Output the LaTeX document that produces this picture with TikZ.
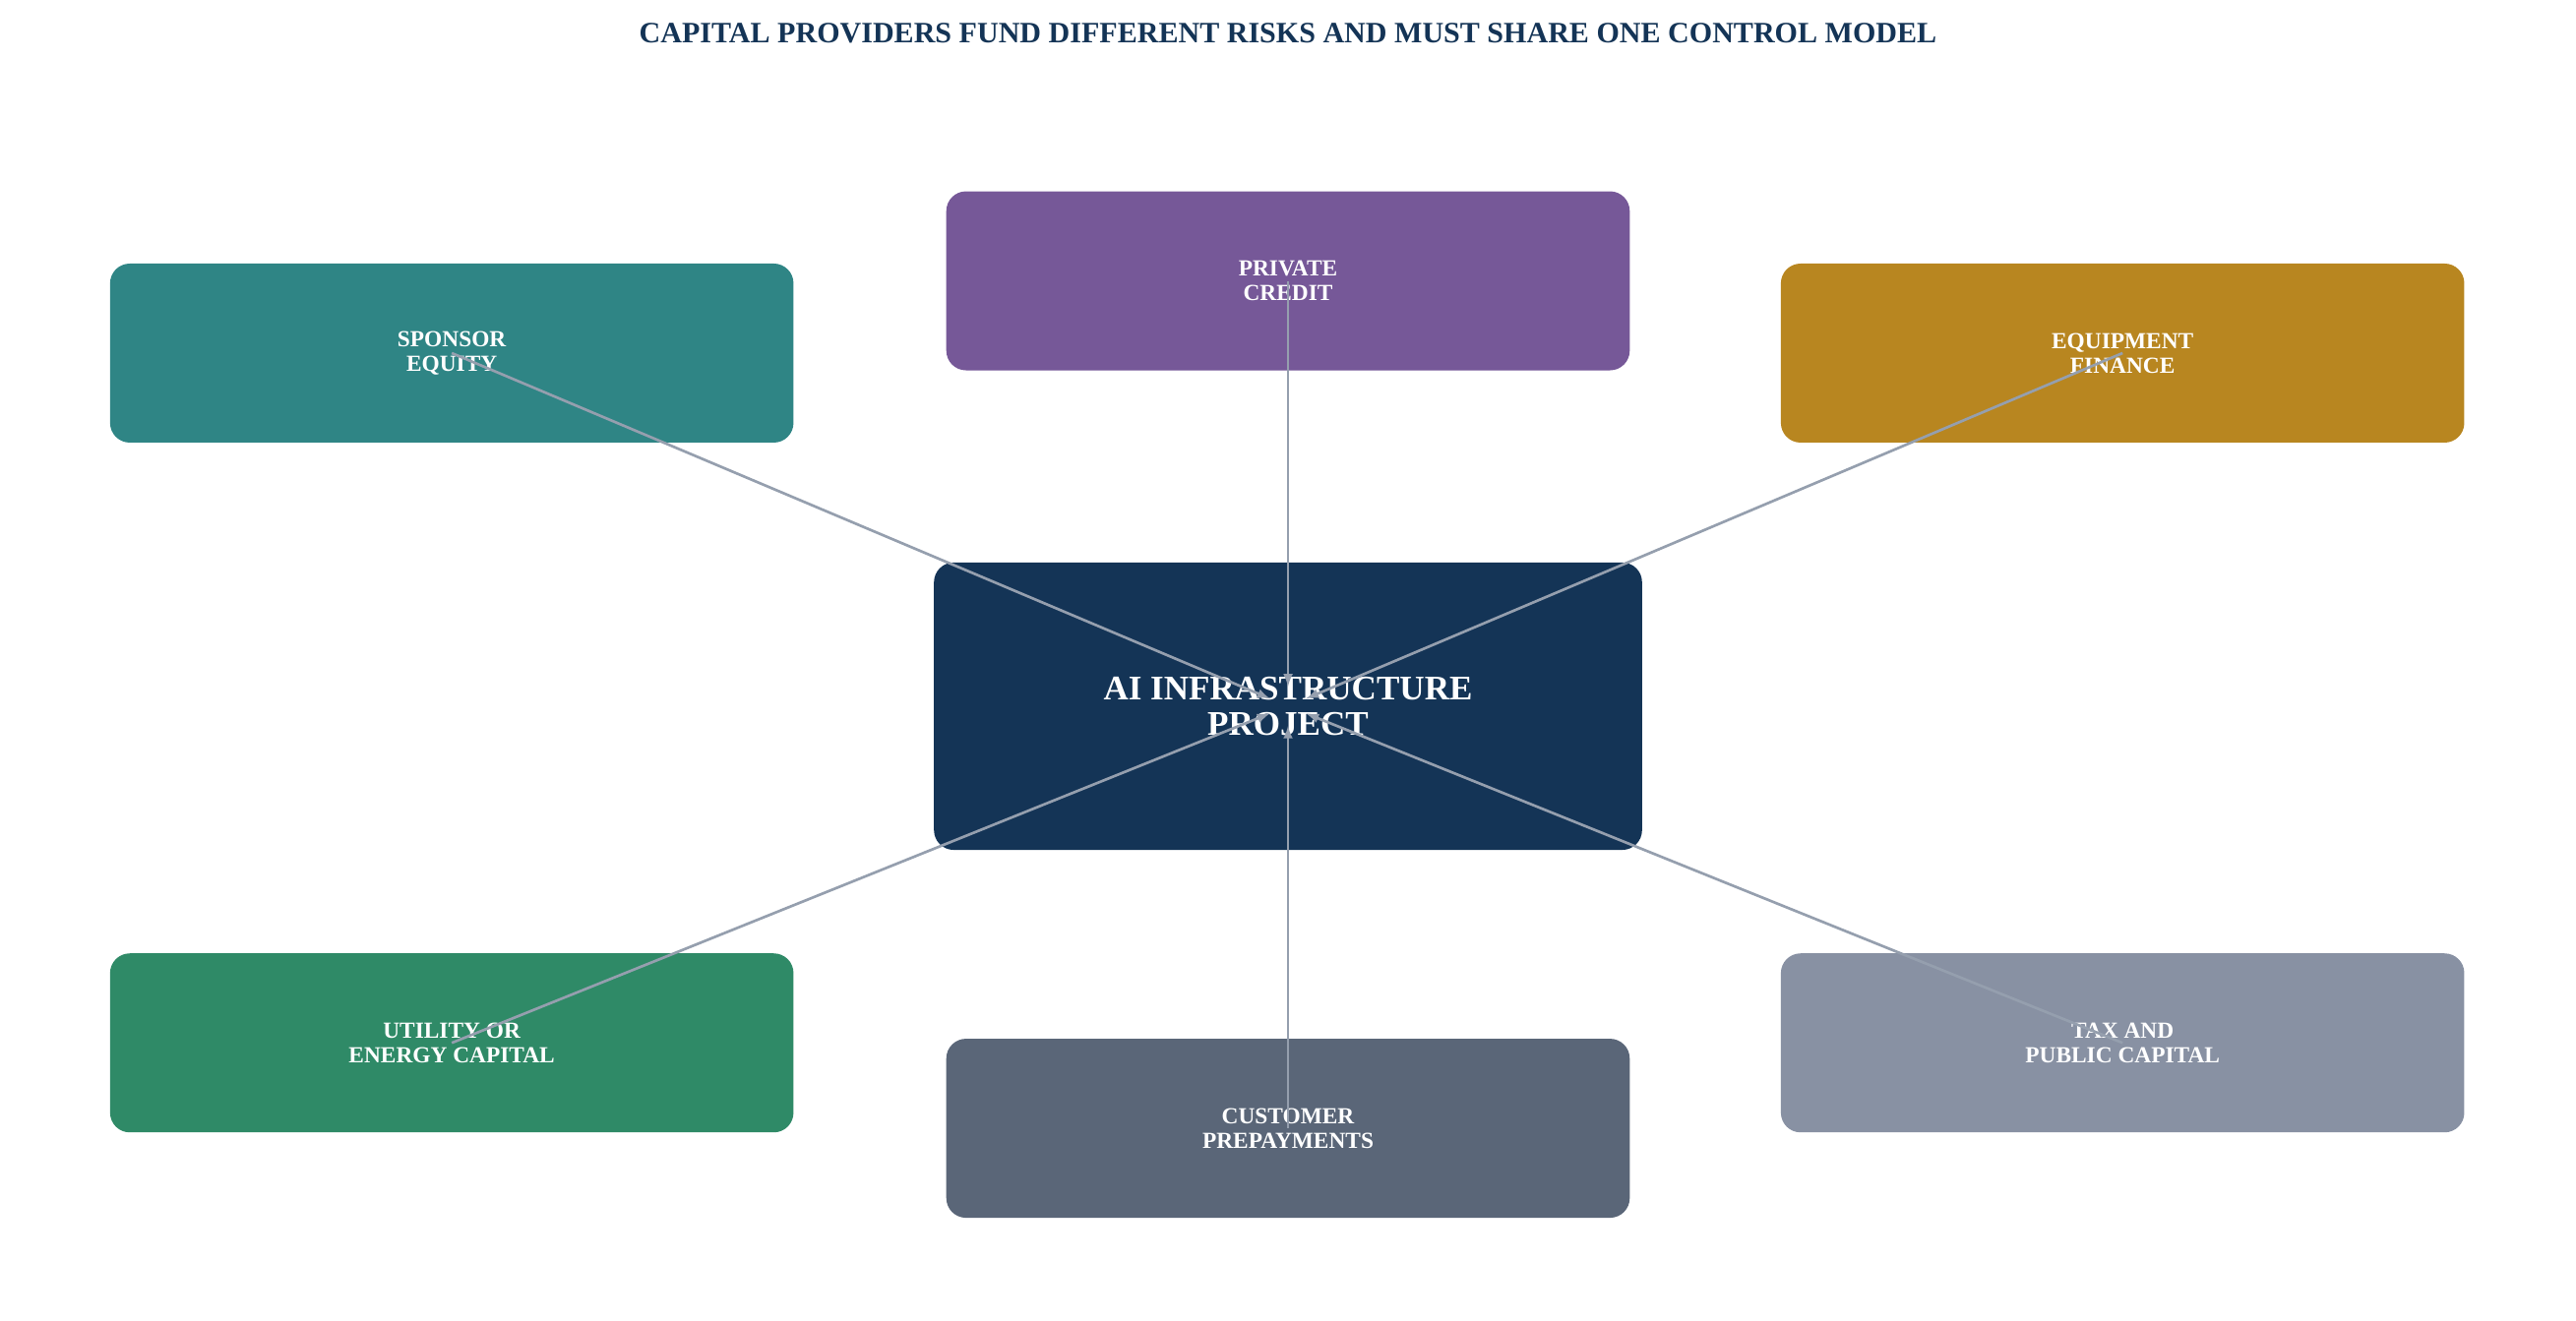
\documentclass[tikz,border=0pt]{standalone}
\usepackage{fontspec}
\setmainfont{Liberation Serif}
\definecolor{navy}{HTML}{143456}
\definecolor{teal}{HTML}{2F8585}
\definecolor{plum}{HTML}{765898}
\definecolor{gold}{HTML}{B88620}
\definecolor{leaf}{HTML}{2F8A67}
\definecolor{slate}{HTML}{5A6678}
\definecolor{haze}{HTML}{8891A3}
\definecolor{wire}{HTML}{959FAE}
\begin{document}
\begin{tikzpicture}[x=1pt,y=-1pt]
   \tikzstyle{provider}=[draw=none, rounded corners=12pt, minimum width=416pt, minimum height=109pt, text=white, font=\bfseries\fontsize{14}{15}\selectfont, align=center]
   \tikzstyle{feed}=[draw=wire, line width=1.6pt, -latex, shorten >=12pt]

\useasboundingbox (0,0) rectangle (1568,804);
\node[font=\bfseries\fontsize{18}{20}\selectfont, text=navy] (title) at (784,20) {CAPITAL PROVIDERS FUND DIFFERENT RISKS AND MUST SHARE ONE CONTROL MODEL};

\node[provider, fill=navy, minimum width=431pt, minimum height=175pt, font=\bfseries\fontsize{21}{22}\selectfont] (hub) at (784,430) {AI INFRASTRUCTURE\\PROJECT};

\node[provider, fill=teal] (sponsor) at (275,215) {SPONSOR\\EQUITY};
\node[provider, fill=plum] (credit) at (784,171) {PRIVATE\\CREDIT};
\node[provider, fill=gold] (equip) at (1292,215) {EQUIPMENT\\FINANCE};
\node[provider, fill=leaf] (utility) at (275,635) {UTILITY OR\\ENERGY CAPITAL};
\node[provider, fill=slate] (prepay) at (784,687) {CUSTOMER\\PREPAYMENTS};
\node[provider, fill=haze] (public) at (1292,635) {TAX AND\\PUBLIC CAPITAL};

% funding lines into the hub
\foreach \src in {sponsor,credit,equip,utility,prepay,public}
   \draw[feed] (\src.center) -- (hub.center);

\end{tikzpicture}
\end{document}
